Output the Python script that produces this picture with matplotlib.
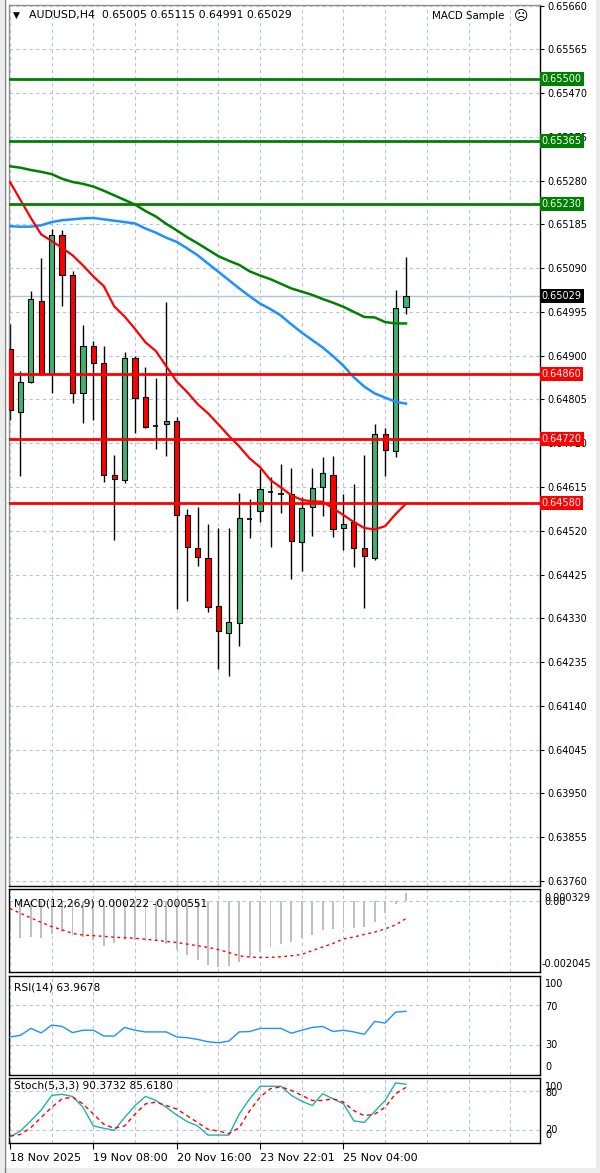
import numpy as np
import matplotlib
matplotlib.use('Agg')
import matplotlib.pyplot as plt
from matplotlib.transforms import blended_transform_factory
from matplotlib.patches import Rectangle
from matplotlib.lines import Line2D

# AUDUSD H4 candles
opens = [0.64915, 0.64778, 0.64843, 0.65019, 0.64860, 0.65163, 0.65076, 0.64818, 0.64920, 0.64885,
         0.64642, 0.64631, 0.64895, 0.64810, 0.64747, 0.64751, 0.64758, 0.64555, 0.64482, 0.64462,
         0.64357, 0.64299, 0.64320, 0.64545, 0.64563, 0.64604, 0.64599, 0.64600, 0.64495, 0.64572,
         0.64614, 0.64642, 0.64527, 0.64538, 0.64482, 0.64461, 0.64731, 0.64693, 0.65005]
highs = [0.64968, 0.64867, 0.65040, 0.65113, 0.65176, 0.65172, 0.65084, 0.64966, 0.64932, 0.64920,
         0.64684, 0.64907, 0.64900, 0.64876, 0.64852, 0.65016, 0.64767, 0.64567, 0.64571, 0.64534,
         0.64527, 0.64525, 0.64602, 0.64590, 0.64654, 0.64637, 0.64666, 0.64657, 0.64594, 0.64657,
         0.64680, 0.64683, 0.64599, 0.64621, 0.64684, 0.64751, 0.64744, 0.65042, 0.65115]
lows = [0.64761, 0.64638, 0.64840, 0.64858, 0.64818, 0.65007, 0.64797, 0.64755, 0.64760, 0.64625,
        0.64500, 0.64623, 0.64732, 0.64744, 0.64698, 0.64682, 0.64351, 0.64367, 0.64443, 0.64344,
        0.64220, 0.64205, 0.64271, 0.64505, 0.64539, 0.64484, 0.64559, 0.64415, 0.64432, 0.64508,
        0.64552, 0.64507, 0.64478, 0.64442, 0.64353, 0.64456, 0.64639, 0.64680, 0.64991]
closes = [0.64782, 0.64843, 0.65022, 0.64860, 0.65161, 0.65076, 0.64818, 0.64920, 0.64885, 0.64642,
          0.64633, 0.64894, 0.64809, 0.64746, 0.64747, 0.64758, 0.64554, 0.64484, 0.64463, 0.64354,
          0.64303, 0.64322, 0.64547, 0.64545, 0.64610, 0.64604, 0.64599, 0.64498, 0.64570, 0.64612,
          0.64646, 0.64523, 0.64535, 0.64482, 0.64465, 0.64731, 0.64696, 0.65004, 0.65029]

ma_red = [0.65277, 0.65238, 0.65199, 0.65163, 0.65149, 0.65134, 0.65118, 0.65096, 0.65072, 0.65051,
          0.65007, 0.64985, 0.64958, 0.64929, 0.64910, 0.64877, 0.64844, 0.64821, 0.64795, 0.64775,
          0.64751, 0.64726, 0.64703, 0.64677, 0.64658, 0.64630, 0.64614, 0.64597, 0.64587, 0.64584,
          0.64583, 0.64569, 0.64554, 0.64539, 0.64526, 0.64523, 0.64530, 0.64556, 0.64579]
ma_blue = [0.65181, 0.65180, 0.65180, 0.65183, 0.65190, 0.65194, 0.65196, 0.65198, 0.65199, 0.65196,
           0.65193, 0.65190, 0.65187, 0.65176, 0.65167, 0.65156, 0.65147, 0.65133, 0.65118, 0.65100,
           0.65082, 0.65064, 0.65046, 0.65029, 0.65013, 0.65001, 0.64987, 0.64968, 0.64950, 0.64934,
           0.64918, 0.64899, 0.64878, 0.64853, 0.64833, 0.64818, 0.64809, 0.64800, 0.64796]
ma_green = [0.65311, 0.65308, 0.65303, 0.65299, 0.65294, 0.65284, 0.65277, 0.65273, 0.65267, 0.65258,
            0.65248, 0.65238, 0.65228, 0.65214, 0.65202, 0.65186, 0.65172, 0.65157, 0.65144, 0.65130,
            0.65116, 0.65106, 0.65097, 0.65083, 0.65074, 0.65066, 0.65056, 0.65046, 0.65039, 0.65032,
            0.65023, 0.65015, 0.65006, 0.64995, 0.64984, 0.64983, 0.64973, 0.64970, 0.64970]

green_levels = [0.65500, 0.65365, 0.65230]
red_levels = [0.64860, 0.64720, 0.64580]
last_price = 0.65029

macd_hist = [-0.00100, -0.00115, -0.00112, -0.00115, -0.00103, -0.00097, -0.00106, -0.00112, -0.00121, -0.00140,
             -0.00130, -0.00121, -0.00121, -0.00124, -0.00124, -0.00133, -0.00152, -0.00167, -0.00183, -0.00198,
             -0.00204, -0.00201, -0.00189, -0.00174, -0.00158, -0.00143, -0.00133, -0.00127, -0.00115, -0.00106,
             -0.00090, -0.00087, -0.00084, -0.00084, -0.00081, -0.00066, -0.00038, -0.00010, 0.000222]
macd_signal = [-0.00024, -0.00039, -0.00053, -0.00067, -0.00080, -0.00090, -0.00101, -0.00106, -0.00108, -0.00110,
               -0.00113, -0.00114, -0.00116, -0.00119, -0.00122, -0.00126, -0.00129, -0.00134, -0.00139, -0.00144,
               -0.00151, -0.00160, -0.00170, -0.00174, -0.00175, -0.00175, -0.00173, -0.00170, -0.00166, -0.00154,
               -0.00143, -0.00132, -0.00118, -0.00112, -0.00104, -0.00097, -0.00087, -0.00075, -0.000551]

rsi = [38.2, 39.9, 46.8, 42.3, 50.2, 48.8, 42.6, 45.0, 45.0, 39.2,
       39.2, 47.8, 45.0, 43.3, 43.3, 43.3, 38.2, 37.5, 35.8, 33.4,
       32.4, 34.1, 43.3, 43.7, 46.8, 46.8, 46.8, 42.0, 45.0, 47.8,
       48.8, 43.7, 45.0, 43.3, 40.9, 53.9, 52.2, 63.2, 63.97]

stoch_k = [9.6, 18.4, 34.1, 50.8, 73.2, 74.8, 71.7, 55.0, 26.3, 22.6,
           19.5, 39.3, 57.6, 71.7, 65.4, 55.0, 43.0, 33.0, 26.3, 12.2,
           12.2, 12.2, 44.5, 68.0, 87.3, 87.3, 87.3, 73.2, 64.3, 57.6,
           75.8, 68.0, 60.2, 34.1, 31.5, 48.7, 65.4, 92.5, 90.37]
stoch_d = [10.6, 13.2, 23.7, 39.3, 55.0, 68.0, 70.6, 60.2, 44.5, 28.9,
           22.6, 26.3, 44.5, 60.2, 62.8, 57.6, 52.3, 41.9, 31.5, 21.0,
           18.4, 14.3, 23.7, 49.7, 70.6, 83.7, 86.3, 81.0, 73.2, 65.4,
           65.4, 68.0, 62.8, 49.7, 41.9, 44.5, 55.0, 75.8, 85.6]

date_ticks = [0, 8, 16, 24, 32]
date_labels = ['18 Nov 2025', '19 Nov 08:00', '20 Nov 16:00', '23 Nov 22:01', '25 Nov 04:00']

W, H = 600, 1173
plt.rcParams['font.family'] = ['DejaVu Sans']
fig = plt.figure(figsize=(W / 100, H / 100), dpi=100)


def rect(x0, y0, x1, y1):
    return [x0 / W, 1 - y1 / H, (x1 - x0) / W, (y1 - y0) / H]


def ptxt(x, y, s, **kw):
    kw.setdefault('fontsize', 7)
    kw.setdefault('va', 'center')
    fig.text(x / W, 1 - y / H, s, **kw)


grid_kw = dict(color='#b4c4dc', lw=0.8, ls=(0, (3, 3)))
x = np.arange(len(opens))
xlim = (-0.144, 50.86)

ax = fig.add_axes(rect(8.5, 5, 540, 886))
axm = fig.add_axes(rect(8.5, 889, 540, 972))
axr = fig.add_axes(rect(8.5, 975.5, 540, 1075))
axs = fig.add_axes(rect(8.5, 1078, 540, 1143))

for a in (ax, axm, axr, axs):
    a.set_xlim(*xlim)
    for gx in np.arange(0, 51, 4):
        a.axvline(gx, zorder=0, **grid_kw)
    for sp in a.spines.values():
        sp.set_color('black')
        sp.set_linewidth(1)
    a.tick_params(bottom=False, labelbottom=False, left=False, labelleft=False)

# ---- main price chart
ax.set_ylim(0.637491, 0.656611)
yt = 0.63760 + 0.00095 * np.arange(21)
ax.set_yticks(yt)
ax.set_yticklabels(['%.5f' % v for v in yt])
ax.yaxis.tick_right()
ax.tick_params(axis='y', right=True, labelright=True, length=3, pad=2, labelsize=7, width=0.8)
for v in yt:
    ax.axhline(v, zorder=0, **grid_kw)
ax.spines['top'].set_color('#909090')
ax.spines['left'].set_color('#909090')

o = np.array(opens); c = np.array(closes)
ax.vlines(x, lows, highs, color='black', lw=1, zorder=2)
up = c > o
dn = c < o
doji = np.abs(c - o) < 0.00002
body_bot = np.minimum(o, c)
body_h = np.abs(c - o)
ax.bar(x[up & ~doji], body_h[up & ~doji], bottom=body_bot[up & ~doji], width=0.5,
       color='#3cb371', edgecolor='black', lw=0.8, zorder=3)
ax.bar(x[dn & ~doji], body_h[dn & ~doji], bottom=body_bot[dn & ~doji], width=0.5,
       color='#ff0000', edgecolor='black', lw=0.8, zorder=3)
ax.hlines(c[doji], x[doji] - 0.25, x[doji] + 0.25, color='black', lw=1.2, zorder=3)

ax.axhline(last_price, color='#b0c4de', lw=1, zorder=1)
ax.plot(x, ma_green, color='#008000', lw=1.8, zorder=4)
ax.plot(x, ma_blue, color='#1e90ff', lw=1.8, zorder=4)
ax.plot(x, ma_red, color='#ff0000', lw=1.6, zorder=4)

bt = blended_transform_factory(ax.transAxes, ax.transData)
for lv in green_levels:
    ax.axhline(lv, color='#008000', lw=2, zorder=5)
    ax.text(1.003, lv, '%.5f' % lv, transform=bt, fontsize=7, color='white', va='center', ha='left',
            bbox=dict(boxstyle='square,pad=0.2', fc='#008000', ec='none'), zorder=6, clip_on=False)
for lv in red_levels:
    ax.axhline(lv, color='#ff0000', lw=2, zorder=5)
    ax.text(1.003, lv, '%.5f' % lv, transform=bt, fontsize=7, color='white', va='center', ha='left',
            bbox=dict(boxstyle='square,pad=0.2', fc='#ff0000', ec='none'), zorder=6, clip_on=False)
ax.text(1.003, last_price, '%.5f' % last_price, transform=bt, fontsize=7, color='white', va='center',
        ha='left', bbox=dict(boxstyle='square,pad=0.2', fc='black', ec='none'), zorder=6, clip_on=False)

ptxt(13, 15, '\u25bc', fontsize=6.5)
ptxt(29, 15, 'AUDUSD,H4  0.65005 0.65115 0.64991 0.65029', fontsize=7.8)
ptxt(432, 16, 'MACD Sample', fontsize=7.4)
ptxt(514, 16, '\u2639', fontsize=10)

# ---- MACD
axm.set_ylim(-0.0022, 0.00036)
axm.axhline(0, zorder=0, **grid_kw)
axm.bar(x, macd_hist, width=0.18, color='#c0c0c0', zorder=2)
axm.plot(x, macd_signal, color='#ff0000', lw=1, ls=(0, (2, 2.5)), zorder=3)
ptxt(14, 903, 'MACD(12,26,9) 0.000222 -0.000551', fontsize=7.7)
ptxt(544, 898, '0.000329', fontsize=7)
ptxt(544, 902, '0.00', fontsize=7)
ptxt(542, 964, '-0.002045', fontsize=7)

# ---- RSI
axr.set_ylim(0, 100)
for lv in (70, 30):
    axr.axhline(lv, zorder=0, **grid_kw)
axr.plot(x, rsi, color='#1e90ff', lw=1, zorder=3)
ptxt(14, 987, 'RSI(14) 63.9678', fontsize=7.7)
ptxt(545, 984, '100', fontsize=7)
ptxt(545, 1006.5, '70', fontsize=7)
ptxt(545, 1045.5, '30', fontsize=7)
ptxt(545, 1066.5, '0', fontsize=7)

# ---- Stochastic
axs.set_ylim(0, 100)
for lv in (80, 20):
    axs.axhline(lv, zorder=0, **grid_kw)
axs.plot(x, stoch_k, color='#20b2aa', lw=1, zorder=3)
axs.plot(x, stoch_d, color='#ff0000', lw=1, ls=(0, (3, 2.5)), zorder=3)
ptxt(14, 1085, 'Stoch(5,3,3) 90.3732 85.6180', fontsize=7.6)
ptxt(545, 1087, '100', fontsize=7)
ptxt(545, 1093, '80', fontsize=7)
ptxt(545, 1130, '20', fontsize=7)
ptxt(545, 1135, '0', fontsize=7)

axs.set_xticks(date_ticks)
axs.set_xticklabels(date_labels, ha='left', fontsize=8)
axs.tick_params(axis='x', bottom=True, labelbottom=True, length=4, pad=3, width=0.8)

# ---- window frame
fig.add_artist(Rectangle((0, 0), 4 / W, 1, transform=fig.transFigure, fc='#ececec', ec='none'))
fig.add_artist(Line2D([5 / W, 5 / W], [0, 1], transform=fig.transFigure, color='#808080', lw=1))
fig.add_artist(Rectangle((0, 0), 1, 5 / H, transform=fig.transFigure, fc='#ececec', ec='none'))
fig.add_artist(Rectangle((596 / W, 0), 4 / W, 1, transform=fig.transFigure, fc='#ececec', ec='none'))

fig.savefig('out.png', dpi=100)
